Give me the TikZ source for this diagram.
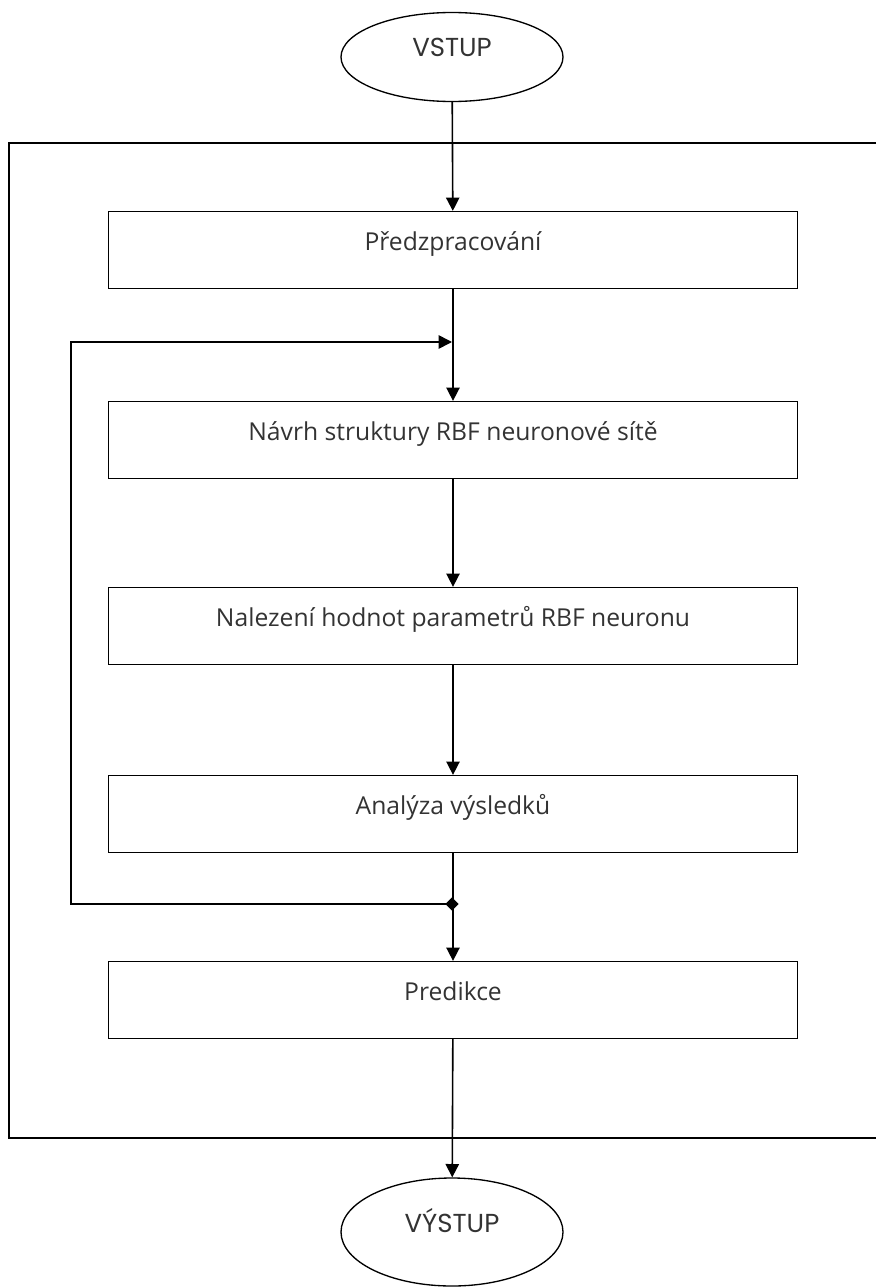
\documentclass[tikz,border=0pt]{standalone}
\usepackage{fontspec}
\setmainfont{Open Sans}
\newfontfamily\ovalfont{Poppins}
\usetikzlibrary{shapes,arrows.meta}
\tikzset{
  krok/.style={draw, rectangle, line width=1.2pt, minimum width=517pt, minimum height=57.5pt,
    text height=12pt, text depth=12pt, text=black!80, font=\fontsize{18.5}{21}\selectfont},
  oval/.style={draw, ellipse, line width=1pt, minimum width=166.5pt,
    text height=14pt, text depth=14pt, text=black!80, font=\ovalfont\fontsize{19.5}{22}\selectfont},
  sipka/.style={line width=1.2pt, -{Triangle[length=10pt,width=10pt]}},
  spoj/.style={fill, diamond, inner sep=0pt, minimum size=10pt}
}
\begin{document}
\begin{tikzpicture}[x=0.75pt, y=-0.75pt]
        \useasboundingbox (0,0) rectangle (876,1288);
        % vstup a vystup
        \node[oval, minimum height=66.75pt] (vstup) at (452,57) {VSTUP};
        \node[oval, minimum height=81pt] (vystup) at (452,1232) {VÝSTUP};
        % kroky
        \node[krok] (b1) at (453,250) {Předzpracování};
        \node[krok] (b2) at (453,440) {Návrh struktury RBF neuronové sítě};
        \node[krok] (b3) at (453,626) {Nalezení hodnot parametrů RBF neuronu};
        \node[krok] (b4) at (453,814) {Analýza výsledků};
        \node[krok] (b5) at (453,1000) {Predikce};
        % ramecek
        \draw[line width=1.3pt] (876,143) -| (9,1138) -- (876,1138);
        % body zpetne vazby
        \coordinate (fb-in) at (452,342);
        \node[spoj] (fb-out) at (452,904) {};
        \coordinate (fb-a) at (71,904);
        \coordinate (fb-b) at (71,342);
        % sipky
        \draw[sipka] (vstup) -- (b1);
        \draw[sipka] (b1) -- (b2);
        \foreach \a/\b in {b2/b3, b3/b4, b4/b5}
        \draw[sipka] (\a) -- (\b);
        \draw[sipka] (b5) -- (vystup);
        \draw[sipka] (fb-out.center) -- (fb-a) -- (fb-b) -- (fb-in); % zpetna vazba
\end{tikzpicture}
\end{document}
